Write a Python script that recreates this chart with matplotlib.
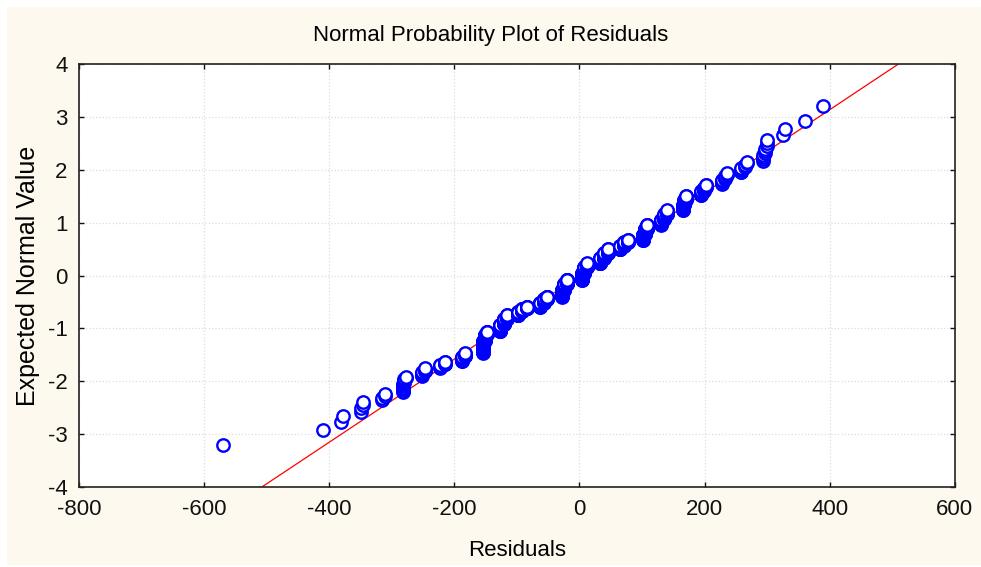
import numpy as np
import matplotlib
matplotlib.use('Agg')
import matplotlib.pyplot as plt
from matplotlib.patches import Rectangle
from statistics import NormalDist

plt.rcParams['font.family'] = ['Liberation Sans', 'DejaVu Sans']
plt.rcParams['axes.unicode_minus'] = False

#===================
# Data (residual values, with how many cases share each)
#===================
resid_values = [-569, -409, -381, -378, -349, -346, -315, -310,
                -282, -280, -277, -252, -246, -222, -214, -188, -182,
                -154, -151, -147, -127, -121, -115, -98, -91, -84,
                -63, -57, -51, -28, -24, -20, 4, 8, 12,
                33, 39, 45, 65, 71, 77, 102, 105, 108,
                131, 136, 140, 165, 168, 171, 195, 199, 203,
                228, 232, 236, 259, 264, 268, 294, 296, 300,
                325, 329, 360, 390]
resid_counts = [1, 1, 1, 1, 2, 2, 2, 2,
                7, 5, 2, 6, 5, 6, 5, 10, 8,
                35, 22, 12, 30, 28, 18, 20, 17, 10,
                25, 23, 15, 45, 42, 28, 45, 42, 27,
                35, 33, 25, 22, 20, 12, 30, 28, 19,
                22, 20, 14, 16, 14, 10, 9, 7, 5,
                7, 5, 3, 5, 3, 2, 4, 3, 3,
                1, 1, 1, 1]

# normal fit line (mean, sd of residuals)
fit_mean = 1.0
fit_sd = 127.0

x_ticks = [-800, -600, -400, -200, 0, 200, 400, 600]
y_ticks = [-4, -3, -2, -1, 0, 1, 2, 3, 4]

#===================
# Expected normal values from ranks
#===================
resid = np.sort(np.repeat(resid_values, resid_counts))
n = len(resid)
rank = np.arange(1, n + 1)
nd = NormalDist()
expected = np.array([nd.inv_cdf((r - 0.375) / (n + 0.25)) for r in rank])

#===================
# Plot
#===================
fig = plt.figure(figsize=(9.81, 5.67), dpi=100)
fig.patch.set_facecolor('white')
fig.patches.append(Rectangle((7/981, 2/567), 1 - 7/981, 1 - 9/567,
                             transform=fig.transFigure, facecolor='#fdf9ef',
                             edgecolor='none', zorder=-10))

ax = fig.add_axes([0.0803, 0.1414, 0.8930, 0.7450])
ax.set_facecolor('white')

ax.scatter(resid, expected, s=80, facecolors='white', edgecolors='#0000ff',
           linewidths=1.7, zorder=3)

xl = np.array([-800, 600])
ax.plot(xl, (xl - fit_mean) / fit_sd, color='#ff0000', lw=0.9, zorder=2)

ax.set_xlim(-800, 600)
ax.set_ylim(-4, 4)
ax.set_xticks(x_ticks)
ax.set_yticks(y_ticks)
ax.grid(True, color='#dddddd', ls=':', lw=0.9)
ax.tick_params(direction='in', length=3.5, width=1, top=True, right=True,
               labelsize=16, colors='#111111')
ax.tick_params(axis='x', pad=9)
ax.tick_params(axis='y', pad=8)
for s in ax.spines.values():
    s.set_linewidth(1.2)
    s.set_color('#222222')

ax.set_xlabel('Residuals', fontsize=16, labelpad=14)
fig.text(28/981, 1 - 275.6/567, 'Expected Normal Value', rotation=90,
         fontsize=18, ha='center', va='center')
fig.text(0.5, 1 - 41.5/567, 'Normal Probability Plot of Residuals',
         fontsize=16, ha='center', va='baseline')

plt.savefig('out.png', dpi=100)
